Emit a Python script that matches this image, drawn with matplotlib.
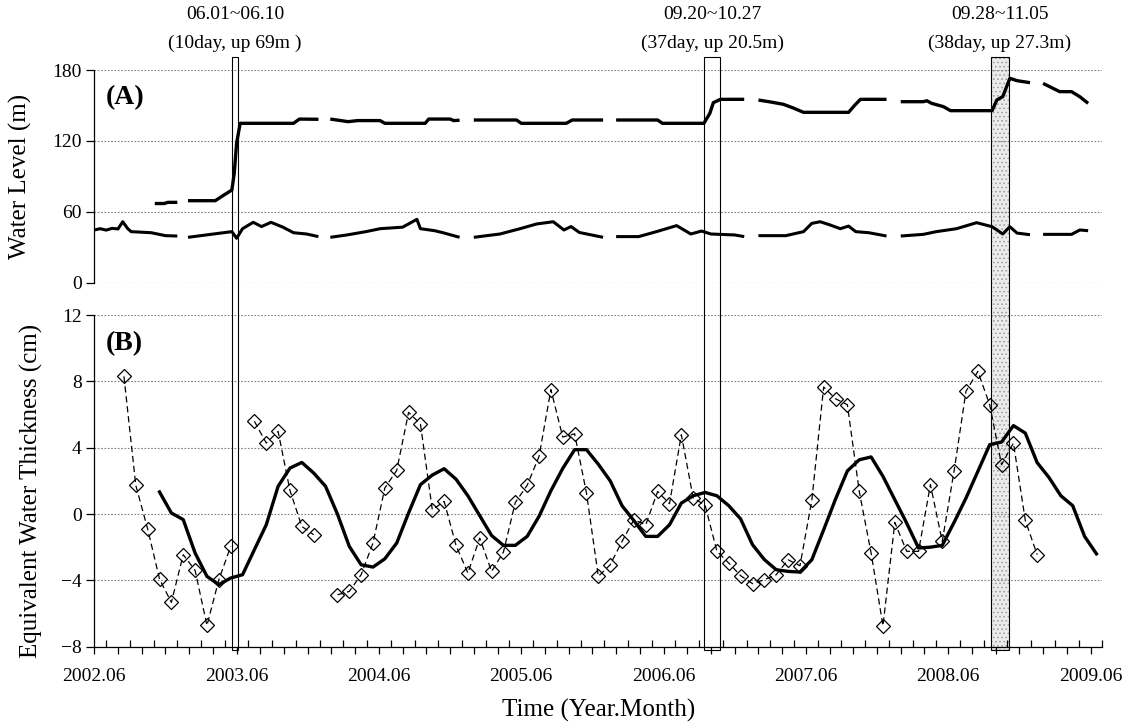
import numpy as np
import matplotlib
matplotlib.use('Agg')
import matplotlib.pyplot as plt
from matplotlib.patches import Rectangle
from matplotlib.transforms import blended_transform_factory
from matplotlib.ticker import MultipleLocator, FuncFormatter

plt.rcParams['font.family'] = ['Liberation Serif', 'DejaVu Serif']
plt.rcParams['hatch.linewidth'] = 0.6

nan = np.nan

# time axis is in months counted from 2002.06
# (A) upstream water level, nan = no data
up_month = [5.1, 5.9, 6.2, 7.0, nan,
            7.9, 10.2, 10.9, 11.6, 11.8, 12.0, 12.3, 16.8, 17.3, 18.9, nan,
            19.9, 21.4, 22.2, 24.1, 24.5, 27.9, 28.2, 30.0, 30.3, 30.8, nan,
            32.0, 35.6, 36.0, 39.8, 40.3, 42.9, nan,
            44.0, 47.5, 47.9, 51.4, 51.9, 52.2, 52.8, 54.8, nan,
            56.0, 57.0, 58.1, 58.9, 59.8, 63.6, 64.1, 64.6, 66.8, nan,
            68.0, 69.9, 70.2, 70.6, 71.6, 72.2, 75.7, 76.1, 76.6, 77.2, 77.8, 78.9, nan,
            80.0, 81.4, 82.4, 83.1, 83.8]
up_level = [67.0, 67.0, 68.0, 68.0, nan,
            69.4, 69.4, 74.0, 78.4, 92.6, 118.0, 134.9, 134.9, 138.5, 138.3, nan,
            138.5, 136.3, 137.2, 137.2, 134.9, 134.9, 138.5, 138.5, 137.2, 137.5, nan,
            137.7, 137.7, 134.9, 134.9, 137.7, 137.7, nan,
            137.7, 137.7, 134.9, 134.9, 143.3, 152.4, 155.2, 155.2, nan,
            154.6, 153.0, 151.0, 148.0, 144.2, 144.2, 150.0, 155.2, 155.2, nan,
            153.2, 153.2, 154.0, 151.8, 149.0, 145.6, 145.6, 154.6, 157.5, 173.0, 171.0, 169.3, nan,
            168.7, 161.7, 161.7, 157.4, 151.8]

# (A) downstream water level
down_month = [0.0, 0.5, 1.0, 1.5, 2.0, 2.4, 2.8, 3.1, 4.8, 6.0, 7.0, nan,
              7.9, 10.9, 11.6, 12.0, 12.5, 13.4, 14.1, 14.9, 15.9, 16.8, 17.9, 18.9, nan,
              19.9, 21.3, 22.9, 24.1, 26.0, 27.2, 27.5, 28.7, 29.4, 30.8, nan,
              32.0, 34.2, 35.9, 37.3, 38.7, 39.6, 40.2, 40.9, 42.9, nan,
              44.0, 45.9, 47.4, 49.1, 50.3, 51.2, 52.0, 54.0, 54.8, nan,
              56.0, 58.3, 59.8, 60.5, 61.2, 62.0, 62.9, 63.6, 64.2, 65.3, 66.8, nan,
              68.0, 69.9, 71.0, 72.7, 74.4, 75.7, 76.6, 77.2, 77.8, 78.9, nan,
              80.0, 82.4, 83.1, 83.8]
down_level = [44.6, 45.7, 44.5, 46.0, 45.5, 51.6, 46.0, 43.2, 42.3, 39.8, 39.5, nan,
              38.4, 42.3, 43.2, 37.6, 45.7, 51.1, 47.5, 51.1, 47.0, 42.3, 41.2, 39.0, nan,
              38.4, 40.4, 43.2, 45.7, 47.0, 53.6, 45.7, 44.0, 42.3, 38.4, nan,
              38.4, 41.2, 45.7, 49.7, 51.6, 44.6, 47.5, 42.5, 38.4, nan,
              39.0, 39.0, 43.2, 48.3, 41.2, 43.7, 41.2, 40.4, 39.0, nan,
              39.8, 39.8, 43.2, 50.2, 51.6, 49.0, 45.7, 47.9, 43.2, 42.3, 39.5, nan,
              39.5, 40.9, 43.2, 45.7, 50.8, 47.4, 41.2, 47.4, 42.0, 40.6, nan,
              40.9, 40.9, 44.6, 44.0]

# (B) monthly equivalent water thickness (cm), mid-month
grace_month = np.arange(2, 80) + 0.5
grace_ewt = [8.3, 1.73, -0.9, -3.92, -5.33, -2.45, -3.4, -6.72, -3.97, -1.95,
             nan, 5.59, 4.28, 4.98, 1.42, -0.75, -1.25,
             nan, -4.87, -4.67, -3.66, -1.75, 1.57, 2.63, 6.13, 5.43, 0.26, 0.76,
             -1.89, -3.56, -1.45, -3.46, -2.29, 0.7, 1.73, 3.47, 7.5, 4.64,
             4.84, 1.27, -3.76, -3.06, -1.65, -0.34, -0.65, 1.36, 0.62, 4.78,
             0.96, 0.54, -2.25, -2.96, -3.72, -4.2, -3.96, -3.66, -2.76, -3.12,
             0.82, 7.66, 6.95, 6.59, 1.36, -2.35, -6.74, -0.51, -2.25, -2.25,
             1.77, -1.65, 2.61, 7.4, 8.6, 6.59, 2.97, 4.28, -0.38, -2.45]

# (B) filtered series
filt_month = np.arange(5, 85) + 0.5
filt_ewt = [1.33, 0.06, -0.34, -2.35, -3.76, -4.26, -3.86, -3.66, -2.15, -0.65,
            1.67, 2.77, 3.11, 2.47, 1.67, 0.0, -1.95, -3.06, -3.2, -2.7,
            -1.75, 0.06, 1.77, 2.35, 2.73, 2.1, 1.1, -0.1, -1.3, -1.89,
            -1.89, -1.35, -0.14, 1.4, 2.75, 3.88, 3.88, 3.0, 2.0, 0.5,
            -0.4, -1.35, -1.35, -0.65, 0.66, 1.1, 1.3, 1.1, 0.5, -0.3,
            -1.85, -2.75, -3.36, -3.46, -3.5, -2.76, -0.95, 0.9, 2.6, 3.27,
            3.44, 2.27, 0.86, -0.55, -2.05, -2.0, -1.89, -0.5, 0.96, 2.57,
            4.18, 4.34, 5.33, 4.88, 3.1, 2.2, 1.1, 0.5, -1.35, -2.4]

# impoundment periods (months from 2002.06)
box_spans = [(11.65, 12.1), (51.45, 52.8), (75.6, 77.1)]
box_line1 = ['06.01~06.10', '09.20~10.27', '09.28~11.05']
box_line2 = ['(10day, up 69m )', '(37day, up 20.5m)', '(38day, up 27.3m)']

year_labels = ['2002.06', '2003.06', '2004.06', '2005.06',
               '2006.06', '2007.06', '2008.06', '2009.06']


def style_axis(ax):
    for side in ['top', 'right']:
        ax.spines[side].set_visible(False)
    ax.spines['left'].set_linewidth(0.9)
    ax.patch.set_visible(False)
    ax.grid(axis='y', color='0.5', linestyle=(0, (1.5, 1.5)), linewidth=0.8)
    ax.tick_params(axis='y', direction='out', length=6, width=0.9,
                   pad=3, labelsize=14)
    ax.set_xlim(0, 85)


def year_fmt(v, pos):
    m = int(round(v))
    if m % 12 == 0 and 0 <= m <= 84:
        return year_labels[m // 12]
    return ''


fig = plt.figure(figsize=(11.36, 7.28), dpi=100)
axA = fig.add_axes([0.0830, 0.6117, 0.8874, 0.2921])
axB = fig.add_axes([0.0830, 0.1117, 0.8874, 0.4556])

# Panel A
style_axis(axA)
axA.spines['bottom'].set_visible(False)
axA.set_ylim(0, 180)
axA.set_yticks([0, 60, 120, 180])
axA.tick_params(axis='x', bottom=False, labelbottom=False)
axA.plot(up_month, up_level, color='black', lw=2.4, solid_capstyle='butt')
axA.plot(down_month, down_level, color='black', lw=2.2, solid_capstyle='butt')
axA.set_ylabel('Water Level (m)', fontsize=18)
axA.yaxis.set_label_coords(-0.062, 0.5)
axA.text(0.011, 0.868, '(A)', transform=axA.transAxes, fontsize=20,
         fontweight='bold', va='center', ha='left')

# Panel B
style_axis(axB)
axB.spines['bottom'].set_linewidth(0.9)
axB.set_ylim(-8, 12)
axB.set_yticks([-8, -4, 0, 4, 8, 12])
axB.xaxis.set_major_locator(MultipleLocator(2))
axB.xaxis.set_minor_locator(MultipleLocator(1))
axB.xaxis.set_major_formatter(FuncFormatter(year_fmt))
axB.tick_params(axis='x', which='major', direction='out', length=5,
                width=0.9, labelsize=14, pad=10)
axB.tick_params(axis='x', which='minor', direction='in', length=5, width=0.9)
axB.plot(grace_month, grace_ewt, color='black', lw=0.9, dashes=(5, 3),
         marker='D', markersize=7.5, markerfacecolor='none',
         markeredgecolor='black', markeredgewidth=0.9)
axB.plot(filt_month, filt_ewt, color='black', lw=2.4)
axB.set_ylabel('Equivalent Water Thickness (cm)', fontsize=18)
axB.yaxis.set_label_coords(-0.051, 0.47)
axB.text(0.011, 0.915, '(B)', transform=axB.transAxes, fontsize=20,
         fontweight='bold', va='center', ha='left')

fig.text(0.527, 0.0247, 'Time (Year.Month)', fontsize=18,
         ha='center', va='center')

# impoundment boxes spanning both panels
trans = blended_transform_factory(axB.transData, fig.transFigure)
for i, (x0, x1) in enumerate(box_spans):
    if i == 2:
        fill = Rectangle((x0, 0.107), x1 - x0, 0.8147, transform=trans,
                         facecolor='0.92', edgecolor='0.6', hatch='....',
                         linewidth=0)
        fill.set_zorder(-1)
        fig.patches.append(fill)
    fig.patches.append(Rectangle((x0, 0.107), x1 - x0, 0.8147, transform=trans,
                                 facecolor='none', edgecolor='black', linewidth=0.8))
    xc = (x0 + x1) / 2
    fig.text(xc, 0.9794, box_line1[i], transform=trans, fontsize=14,
             ha='center', va='center')
    fig.text(xc, 0.9409, box_line2[i], transform=trans, fontsize=14,
             ha='center', va='center')

fig.savefig('out.png', dpi=100)
